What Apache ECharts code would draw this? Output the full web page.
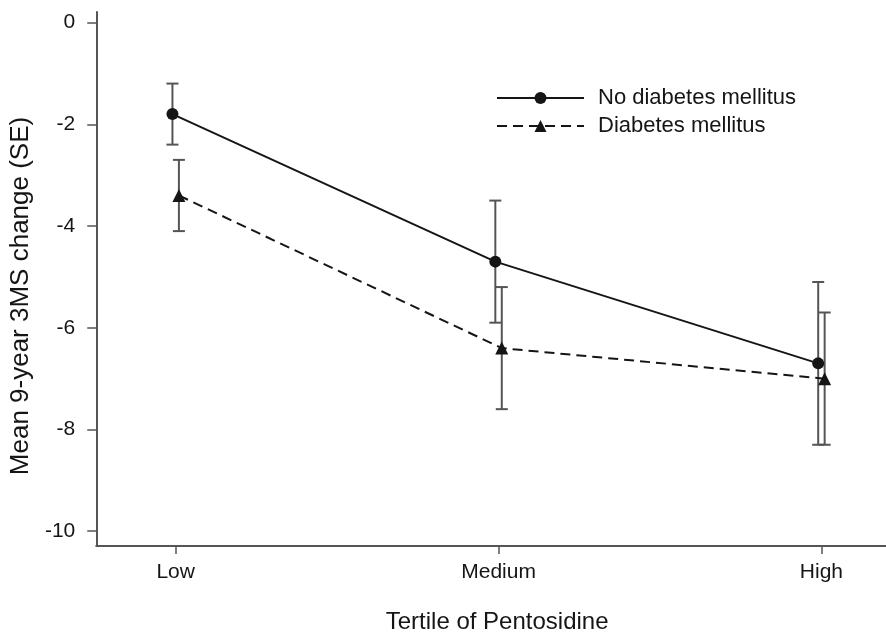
<!DOCTYPE html>
<html>
<head>
<meta charset="utf-8">
<script src="https://cdn.jsdelivr.net/npm/echarts@6/dist/echarts.min.js"></script>
<style>
  html, body { margin: 0; padding: 0; background: #fff; }
  #chart { width: 886px; height: 639px; }
</style>
</head>
<body>
<div id="chart"></div>
<script>
// --- data ---
const tertiles = ['Low', 'Medium', 'High'];
const noDmMean = [-1.8, -4.7, -6.7];
const noDmLower = [-2.4, -5.9, -8.3];
const noDmUpper = [-1.2, -3.5, -5.1];
const dmMean = [-3.4, -6.4, -7.0];
const dmLower = [-4.1, -7.6, -8.3];
const dmUpper = [-2.7, -5.2, -5.7];
const yTicks = [0, -2, -4, -6, -8, -10];

// small horizontal dodge so the two groups don't overlap
const DODGE = 0.01;
const FONT = '"Liberation Sans", Arial, Helvetica, sans-serif';
const AXIS_COLOR = '#555';
const INK = '#151515';

const chart = echarts.init(document.getElementById('chart'), null, { renderer: 'canvas' });

const points = (means, shift) => means.map((v, i) => [i + shift, v]);
const bars = (lower, upper, shift) => lower.map((lo, i) => [i + shift, lo, upper[i]]);

function renderErrorBar(params, api) {
  const x = api.value(0);
  const lo = api.coord([x, api.value(1)]);
  const hi = api.coord([x, api.value(2)]);
  const half = 6;
  const style = { stroke: AXIS_COLOR, lineWidth: 2 };
  return {
    type: 'group',
    children: [
      { type: 'line', shape: { x1: lo[0], y1: lo[1], x2: hi[0], y2: hi[1] }, style },
      { type: 'line', shape: { x1: lo[0] - half, y1: lo[1], x2: lo[0] + half, y2: lo[1] }, style },
      { type: 'line', shape: { x1: hi[0] - half, y1: hi[1], x2: hi[0] + half, y2: hi[1] }, style }
    ]
  };
}

const option = {
  backgroundColor: '#fff',
  animation: false,
  grid: { left: 93, right: 0, top: 12, bottom: 86 },
  legend: {
    data: ['No diabetes mellitus', 'Diabetes mellitus'],
    orient: 'vertical',
    left: 491,
    top: 82,
    itemWidth: 87,
    itemHeight: 15,
    itemGap: 6,
    textStyle: {
      fontFamily: FONT,
      fontSize: 22,
      lineHeight: 22,
      color: INK,
      padding: [0, 0, 0, 9]
    }
  },
  xAxis: {
    type: 'value',
    min: -0.246,
    max: 2.2,
    name: 'Tertile of Pentosidine',
    nameLocation: 'middle',
    nameGap: 64,
    nameTextStyle: { fontFamily: FONT, fontSize: 24, color: INK, padding: [0, 0, 0, 12] },
    axisLine: { show: true, onZero: false, lineStyle: { color: AXIS_COLOR, width: 2 } },
    axisTick: { show: true, length: 8, customValues: [0, 1, 2], lineStyle: { color: AXIS_COLOR, width: 1.5 } },
    axisLabel: {
      customValues: [0, 1, 2],
      formatter: (v) => tertiles[Math.round(v)],
      margin: 16,
      fontFamily: FONT,
      fontSize: 21,
      color: INK
    },
    splitLine: { show: false }
  },
  yAxis: {
    type: 'value',
    min: -10.29,
    max: 0.207,
    name: 'Mean 9-year 3MS change (SE)',
    nameLocation: 'middle',
    nameGap: 57,
    nameTextStyle: { fontFamily: FONT, fontSize: 26, color: INK, padding: [0, 34, 0, 0] },
    axisLine: { show: true, onZero: false, lineStyle: { color: AXIS_COLOR, width: 2 } },
    axisTick: { show: true, length: 9, customValues: yTicks, lineStyle: { color: AXIS_COLOR, width: 1.5 } },
    axisLabel: {
      customValues: yTicks,
      margin: 21,
      fontFamily: FONT,
      fontSize: 21,
      color: INK
    },
    splitLine: { show: false }
  },
  series: [
    {
      name: 'noDmErr',
      type: 'custom',
      renderItem: renderErrorBar,
      encode: { x: 0, y: [1, 2] },
      data: bars(noDmLower, noDmUpper, -DODGE),
      z: 1
    },
    {
      name: 'dmErr',
      type: 'custom',
      renderItem: renderErrorBar,
      encode: { x: 0, y: [1, 2] },
      data: bars(dmLower, dmUpper, DODGE),
      z: 1
    },
    {
      name: 'No diabetes mellitus',
      type: 'line',
      data: points(noDmMean, -DODGE),
      symbol: 'circle',
      symbolSize: 12,
      itemStyle: { color: INK },
      lineStyle: { color: INK, width: 2 },
      z: 3
    },
    {
      name: 'Diabetes mellitus',
      type: 'line',
      data: points(dmMean, DODGE),
      symbol: 'triangle',
      symbolSize: 13,
      itemStyle: { color: INK },
      lineStyle: { color: INK, width: 2, type: [10, 6] },
      z: 3
    }
  ]
};

chart.setOption(option);
</script>
</body>
</html>
